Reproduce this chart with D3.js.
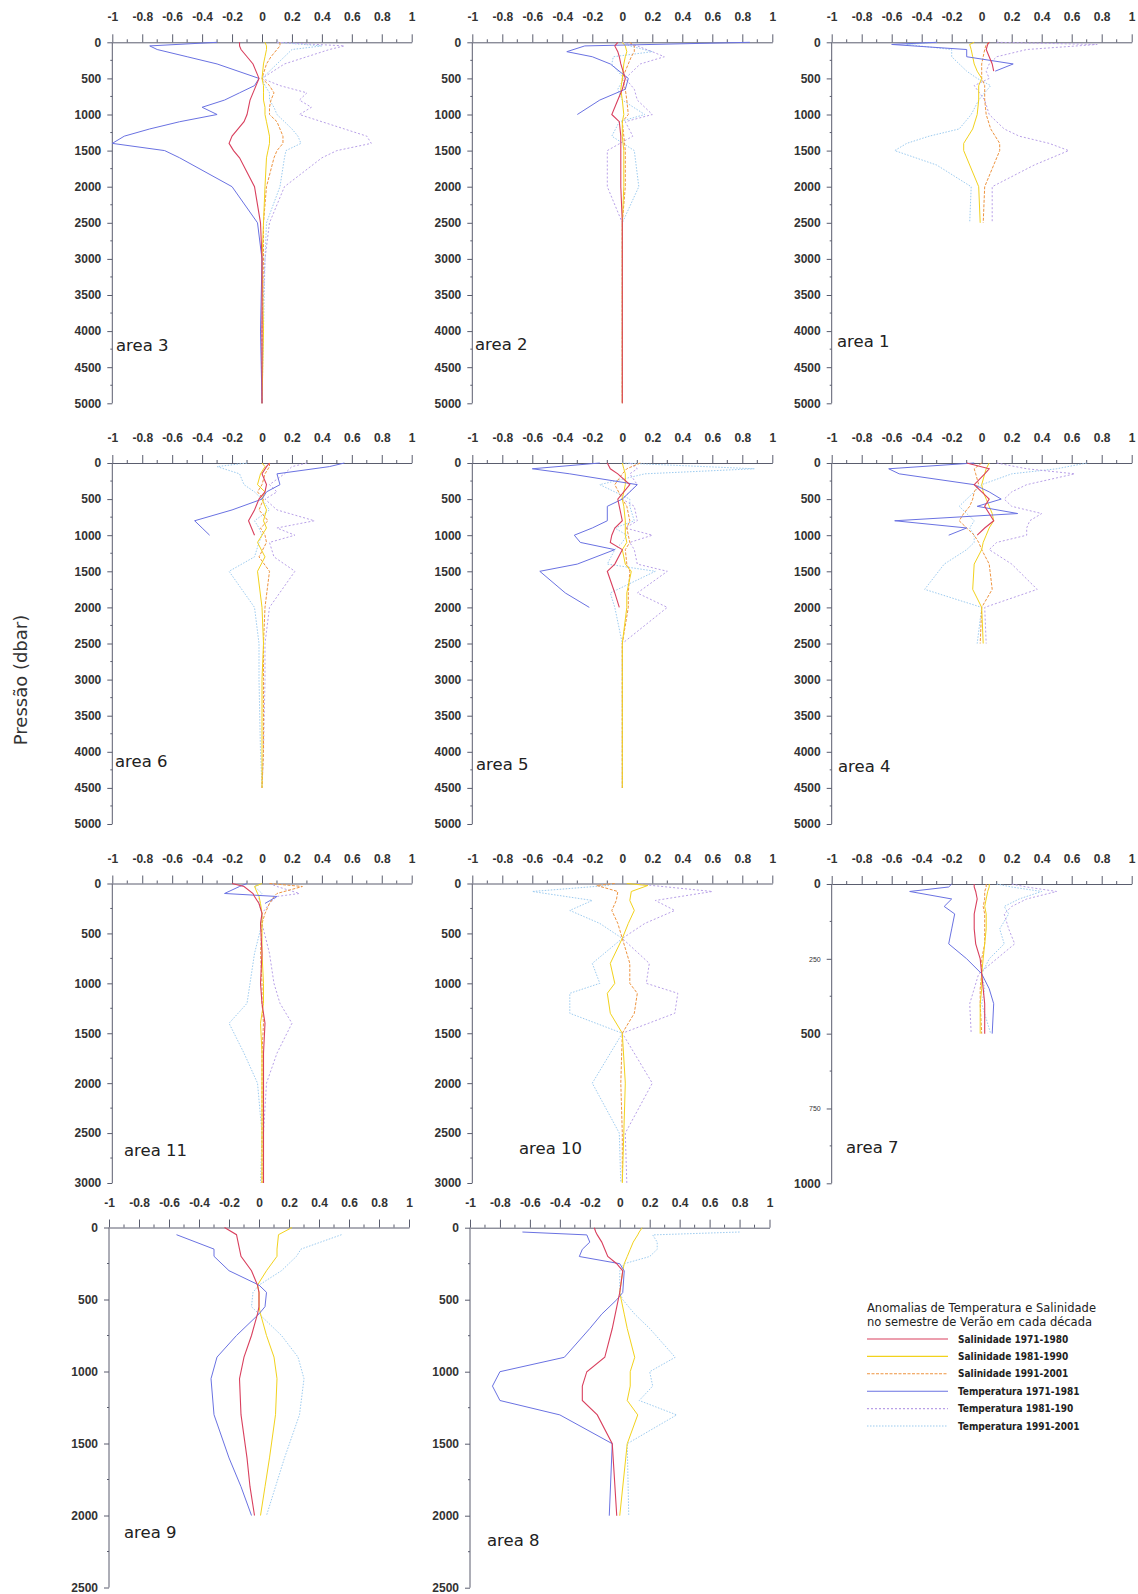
<!DOCTYPE html>
<html>
<head>
<meta charset="utf-8">
<script src="https://cdn.jsdelivr.net/npm/d3@7"></script>
<style>
  body { margin: 0; background: #fff; }
  .axis path, .axis line { stroke: #5a5d6e; stroke-width: 1; }
  .axis text { font-family: "Liberation Sans", Arial, sans-serif; font-size: 12px; font-weight: bold; fill: #333; }
</style>
</head>
<body>
<svg id="chart" width="1138" height="1594"></svg>
<script>
// series order: Sal 71-80, Sal 81-90, Sal 91-01, Temp 71-81, Temp 81-90, Temp 91-01
const seriesNames = ['Salinidade 1971-1980', 'Salinidade 1981-1990', 'Salinidade 1991-2001',
  'Temperatura 1971-1981', 'Temperatura 1981-190', 'Temperatura 1991-2001'];

const xTickValues = [-1, -0.8, -0.6, -0.4, -0.2, 0, 0.2, 0.4, 0.6, 0.8, 1];
const yTicks5000 = [0, 500, 1000, 1500, 2000, 2500, 3000, 3500, 4000, 4500, 5000];
const yTicks3000 = [0, 500, 1000, 1500, 2000, 2500, 3000];
const yTicks2500 = [0, 500, 1000, 1500, 2000, 2500];
const yTicks1000 = [0, 250, 500, 750, 1000];

// area 3
const depth3 = [0, 50, 100, 200, 300, 500, 600, 700, 800, 900, 1000, 1100, 1200, 1300, 1400, 1500, 1600, 2000, 2500, 3000, 4000, 5000];
const area3 = [
  [-0.15, -0.15, -0.14, -0.1, -0.06, -0.02, -0.04, -0.06, -0.08, -0.09, -0.1, -0.12, -0.16, -0.2, -0.22, -0.19, -0.15, -0.05, -0.01, 0, 0, 0],
  [0.02, 0.03, 0.03, 0.02, 0.01, 0, 0.01, 0.01, 0.01, 0.02, 0.02, 0.03, 0.04, 0.05, 0.05, 0.04, 0.03, 0.02, 0.01, 0, 0.01, 0],
  [0.12, 0.12, 0.1, 0.06, 0.03, 0, 0.05, 0.08, 0.06, 0.05, 0.05, 0.1, 0.12, 0.14, 0.14, 0.1, 0.08, 0.03, 0.01, 0.01, 0, 0],
  [-0.3, -0.75, -0.7, -0.5, -0.3, -0.02, -0.05, -0.15, -0.25, -0.4, -0.3, -0.55, -0.75, -0.92, -1.0, -0.65, -0.55, -0.2, -0.03, 0, -0.01, 0],
  [0.1, 0.55, 0.45, 0.3, 0.15, 0, 0.12, 0.3, 0.25, 0.33, 0.25, 0.4, 0.55, 0.7, 0.73, 0.5, 0.4, 0.15, 0.05, 0.02, 0, 0],
  [0.1, 0.4, 0.2, 0.15, 0.1, 0, 0.02, 0.05, 0.05, 0.08, 0.1, 0.15, 0.2, 0.24, 0.26, 0.16, 0.15, 0.12, 0.03, 0.02, 0.01, 0]
];

// area 2
const depth2 = [0, 50, 130, 200, 300, 500, 650, 800, 1000, 1100, 1300, 1500, 2000, 2500, 3000, 5000];
const area2 = [
  [-0.03, -0.05, -0.03, -0.02, -0.01, 0.02, 0.0, -0.03, -0.07, -0.02, -0.01, -0.01, -0.01, 0, 0, 0],
  [0.0, 0.02, 0.03, 0.02, 0.01, 0, -0.01, 0, 0.01, 0, 0, 0.01, 0.01, 0, 0, 0],
  [0.05, 0.08, 0.08, 0.06, 0.04, 0, 0.02, 0.03, 0.04, 0, 0.01, 0.02, 0.02, 0, 0, 0],
  [0.85, -0.25, -0.37, -0.2, -0.08, 0.04, 0.02, -0.15, -0.3, null, null, null, null, null, null, null],
  [0.0, 0.1, 0.2, 0.28, 0.12, 0.02, 0.08, 0.1, 0.2, 0.02, 0.07, -0.1, -0.1, 0, 0, 0],
  [0.0, 0.05, 0.2, -0.06, -0.07, 0.01, -0.03, 0.0, 0.15, -0.02, -0.07, 0.08, 0.11, 0, 0, 0]
];

// area 1
const depth1 = [0, 30, 100, 200, 300, 400, 500, 600, 800, 1000, 1200, 1300, 1400, 1500, 1700, 2000, 2500];
const area1 = [
  [0.05, 0.04, 0.03, 0.05, 0.07, 0.08, null, null, null, null, null, null, null, null, null, null, null],
  [-0.05, -0.08, -0.07, -0.06, -0.05, -0.03, 0, -0.02, -0.02, -0.03, -0.06, -0.09, -0.12, -0.12, -0.08, -0.02, -0.01],
  [0.05, 0.03, 0.02, 0.01, 0.0, 0.0, 0.0, 0.02, 0.02, 0.03, 0.06, 0.09, 0.12, 0.12, 0.08, 0.02, 0.01],
  [-0.3, -0.6, -0.1, -0.1, 0.21, 0.09, null, null, null, null, null, null, null, null, null, null, null],
  [0.1, 0.77, 0.3, 0.1, 0.05, 0.03, 0.05, -0.05, 0.02, 0.05, 0.15, 0.25, 0.45, 0.58, 0.35, 0.07, 0.07],
  [-0.3, -0.5, -0.2, -0.2, -0.15, -0.1, -0.03, 0.06, -0.02, -0.07, -0.15, -0.35, -0.5, -0.58, -0.3, -0.07, -0.08]
];

// area 6
const depth6 = [0, 50, 150, 300, 400, 500, 650, 800, 900, 1000, 1100, 1300, 1500, 2000, 2500, 3000, 4000, 4500];
const area6 = [
  [0.05, 0.03, 0.0, 0.03, 0.02, -0.02, -0.05, -0.09, -0.07, -0.05, null, null, null, null, null, null, null, null],
  [0.0, 0.02, -0.01, -0.03, 0.02, 0.0, 0.03, 0.01, 0.03, 0.0, -0.03, 0.02, -0.03, 0.0, 0.01, 0, 0, 0],
  [0.05, 0.05, 0.02, 0.0, -0.03, 0.01, -0.02, 0.04, -0.01, 0.02, 0.03, -0.02, 0.05, 0.02, 0.01, 0.01, 0.01, 0],
  [0.55, 0.45, 0.1, 0.12, 0.03, 0.0, -0.2, -0.45, -0.4, -0.35, null, null, null, null, null, null, null, null],
  [0.3, 0.2, 0.15, 0.05, 0.1, 0.02, 0.1, 0.35, 0.1, 0.22, 0.05, 0.08, 0.22, 0.05, 0.02, 0.02, 0.01, 0],
  [-0.1, -0.3, -0.15, -0.12, -0.05, 0.0, 0.05, -0.05, -0.02, 0.0, -0.02, -0.05, -0.22, -0.05, -0.02, -0.02, -0.01, 0]
];

// area 5
const depth5 = [0, 80, 150, 300, 500, 600, 800, 900, 1000, 1100, 1200, 1400, 1500, 1800, 2000, 2500, 3000, 4000, 4500];
const area5 = [
  [-0.1, -0.08, -0.03, 0.05, -0.03, -0.02, 0.0, -0.05, -0.07, -0.08, 0.0, -0.05, -0.1, -0.05, -0.02, null, null, null, null],
  [0.0, 0.01, 0.02, 0.02, 0.0, 0.01, 0.02, 0.02, 0.02, 0.03, 0.0, 0.02, 0.06, 0.03, 0.03, 0, 0, 0, 0],
  [0.12, 0.03, 0.0, -0.05, 0.0, 0.03, 0.05, 0.03, 0.04, 0.05, 0.02, 0.03, 0.05, 0.04, 0.04, 0, 0, 0, 0],
  [-0.15, -0.6, -0.35, 0.1, 0.0, -0.1, -0.1, -0.2, -0.32, -0.28, -0.05, -0.3, -0.55, -0.38, -0.22, null, null, null, null],
  [0.05, 0.1, 0.05, 0.1, 0.0, 0.08, 0.1, 0.02, 0.2, 0.05, 0.08, 0.1, 0.3, 0.1, 0.3, 0.0, 0, 0, 0],
  [0.0, 0.88, 0.15, -0.15, 0.05, 0.05, 0.08, -0.05, 0.03, 0.0, -0.05, -0.1, 0.22, -0.08, -0.05, 0.0, 0, 0, 0]
];

// area 4
const depth4 = [0, 80, 150, 300, 400, 500, 600, 700, 800, 900, 1000, 1100, 1200, 1400, 1750, 2000, 2500];
const area4 = [
  [-0.1, 0.05, 0.02, -0.05, 0.0, 0.05, 0.02, 0.05, 0.08, 0.02, -0.03, null, null, null, null, null, null],
  [0.05, 0.03, 0.02, 0.0, 0.01, 0.03, 0.05, 0.07, 0.08, 0.05, 0.03, 0.01, 0.0, -0.05, -0.06, 0.0, 0.01],
  [0.0, -0.05, -0.04, -0.02, -0.05, -0.06, -0.08, -0.12, -0.15, -0.1, -0.05, -0.02, 0.0, 0.05, 0.07, 0.0, -0.01],
  [-0.05, -0.62, -0.55, -0.05, 0.05, 0.13, -0.03, 0.24, -0.58, -0.1, -0.22, null, null, null, null, null, null],
  [0.1, 0.3, 0.62, 0.3, 0.2, 0.15, 0.2, 0.4, 0.32, 0.3, 0.3, 0.1, 0.05, 0.2, 0.37, 0.02, 0.03],
  [0.7, 0.5, 0.2, 0.0, -0.05, -0.1, -0.15, -0.1, -0.05, -0.08, -0.05, -0.05, -0.1, -0.25, -0.38, 0.0, -0.03]
];

// area 11
const depth11 = [0, 30, 100, 130, 200, 300, 400, 700, 1000, 1200, 1400, 1700, 2000, 2500, 3000];
const area11 = [
  [-0.2, -0.12, -0.06, -0.05, -0.02, 0.0, -0.01, 0.0, -0.01, 0.0, 0.02, 0.01, 0.01, 0.01, 0.01],
  [0.0, -0.05, -0.03, -0.02, -0.01, 0.0, 0.0, 0.0, 0.01, 0.01, -0.01, 0.0, 0.0, 0.0, 0.0],
  [0.05, 0.27, 0.1, 0.08, 0.05, 0.02, 0.0, -0.01, 0.0, 0.0, 0.01, 0.0, 0.0, 0.0, 0.0],
  [-0.1, -0.15, -0.25, 0.1, 0.02, null, null, null, null, null, null, null, null, null, null],
  [0.05, 0.1, 0.25, 0.1, 0.05, 0.0, 0.0, 0.05, 0.08, 0.12, 0.2, 0.1, 0.03, 0.01, 0.01],
  [0.0, -0.05, 0.0, -0.02, -0.02, 0.0, 0.0, -0.05, -0.08, -0.1, -0.22, -0.12, -0.03, 0.0, -0.01]
];

// area 10
const depth10 = [0, 20, 80, 170, 270, 400, 550, 800, 1000, 1100, 1300, 1500, 2000, 2500, 3000];
const area10 = [
  null,
  [0.03, 0.17, 0.06, 0.05, 0.08, 0.04, 0.0, -0.08, -0.05, -0.1, -0.08, 0.0, 0.02, 0.01, 0.0],
  [-0.05, -0.17, -0.03, -0.04, -0.07, -0.03, 0.0, 0.05, 0.05, 0.1, 0.08, 0.0, -0.01, 0.0, 0.0],
  null,
  [0.1, 0.2, 0.6, 0.22, 0.35, 0.15, 0.0, 0.18, 0.16, 0.37, 0.35, 0.0, 0.2, 0.02, 0.03],
  [-0.05, -0.1, -0.6, -0.2, -0.35, -0.15, 0.0, -0.2, -0.15, -0.35, -0.35, 0.0, -0.2, -0.02, -0.01]
];

// area 7
const depth7 = [0, 10, 25, 50, 75, 100, 150, 200, 250, 300, 350, 400, 500];
const area7 = [
  [-0.05, -0.05, -0.04, -0.03, -0.04, -0.05, -0.05, -0.04, -0.01, 0.0, 0.01, 0.02, 0.02],
  [0.05, 0.05, 0.04, 0.03, 0.02, 0.03, 0.03, 0.02, 0.01, 0.0, 0.0, -0.01, -0.01],
  [0.03, 0.03, 0.02, 0.02, 0.01, 0.02, 0.02, 0.02, 0.0, 0.0, -0.01, -0.01, 0.0],
  [-0.2, -0.22, -0.48, -0.2, -0.25, -0.18, -0.2, -0.22, -0.1, 0.0, 0.05, 0.08, 0.07],
  [0.2, 0.3, 0.5, 0.3, 0.2, 0.15, 0.18, 0.22, 0.1, -0.02, -0.05, -0.08, -0.07],
  [0.1, 0.2, 0.4, 0.25, 0.15, 0.18, 0.12, 0.15, 0.05, 0.0, 0.02, 0.0, 0.06]
];

// area 9
const depth9 = [0, 50, 150, 200, 300, 400, 450, 550, 600, 750, 900, 1050, 1300, 1600, 1800, 2000];
const area9 = [
  [-0.23, -0.15, -0.13, -0.12, -0.05, -0.01, 0.0, 0.0, -0.01, -0.05, -0.1, -0.13, -0.12, -0.08, -0.06, -0.03],
  [0.22, 0.13, 0.12, 0.12, 0.05, -0.01, 0.0, 0.0, 0.01, 0.05, 0.1, 0.12, 0.11, 0.07, 0.04, 0.01],
  null,
  [null, -0.55, -0.3, -0.3, -0.2, 0.0, 0.05, 0.04, 0.0, -0.15, -0.28, -0.32, -0.3, -0.2, -0.12, -0.05],
  null,
  [null, 0.55, 0.28, 0.25, 0.15, 0.0, -0.04, -0.05, 0.0, 0.15, 0.26, 0.3, 0.27, 0.17, 0.11, 0.05]
];

// area 8
const depth8 = [0, 30, 50, 100, 150, 200, 250, 300, 450, 500, 600, 700, 900, 1000, 1100, 1200, 1300, 1500, 2000];
const area8 = [
  [-0.17, -0.16, -0.15, -0.12, -0.1, -0.08, -0.02, 0.02, 0.0, -0.01, -0.03, -0.05, -0.1, -0.22, -0.25, -0.25, -0.15, -0.05, -0.02],
  [0.15, 0.13, 0.12, 0.09, 0.07, 0.05, 0.03, 0.02, 0.0, 0.01, 0.03, 0.05, 0.1, 0.07, 0.07, 0.05, 0.12, 0.05, 0.0],
  null,
  [null, -0.65, -0.22, -0.2, -0.25, -0.27, 0.0, 0.03, 0.02, -0.02, -0.12, -0.2, -0.37, -0.8, -0.85, -0.8, -0.4, -0.05, -0.07],
  null,
  [null, 0.8, 0.22, 0.25, 0.25, 0.2, 0.03, 0.0, 0.0, 0.02, 0.1, 0.2, 0.37, 0.2, 0.22, 0.13, 0.38, 0.05, 0.06]
];

// line styles per series
const seriesStyle = [
  { color: '#d9405e', dash: null, width: 1.1 },
  { color: '#f2d21c', dash: null, width: 1 },
  { color: '#ee9440', dash: '3,1.5', width: 1 },
  { color: '#6a72e2', dash: null, width: 1 },
  { color: '#b8a0e8', dash: '2,2', width: 1 },
  { color: '#9ccbf0', dash: '1.5,1.5', width: 1 }
];

const svg = d3.select('#chart');

const panels = [
  { name: 'area 3', depth: depth3, values: area3, left: 112.3, right: 411.7, top: 42.3, bottom: 403.3, yTicks: yTicks5000, label: [116, 351] },
  { name: 'area 2', depth: depth2, values: area2, left: 472.3, right: 772.3, top: 42.3, bottom: 403.3, yTicks: yTicks5000, label: [475, 350] },
  { name: 'area 1', depth: depth1, values: area1, left: 831.7, right: 1131.7, top: 42.3, bottom: 403.3, yTicks: yTicks5000, label: [837, 347] },
  { name: 'area 6', depth: depth6, values: area6, left: 112.3, right: 411.7, top: 463, bottom: 824, yTicks: yTicks5000, label: [115, 767] },
  { name: 'area 5', depth: depth5, values: area5, left: 472.3, right: 772.3, top: 463, bottom: 824, yTicks: yTicks5000, label: [476, 770] },
  { name: 'area 4', depth: depth4, values: area4, left: 831.7, right: 1131.7, top: 463, bottom: 824, yTicks: yTicks5000, label: [838, 772] },
  { name: 'area 11', depth: depth11, values: area11, left: 112.3, right: 411.7, top: 883.5, bottom: 1183, yTicks: yTicks3000, label: [124, 1156] },
  { name: 'area 10', depth: depth10, values: area10, left: 472.3, right: 772.3, top: 883.5, bottom: 1183, yTicks: yTicks3000, label: [519, 1154] },
  { name: 'area 7', depth: depth7, values: area7, left: 831.7, right: 1131.7, top: 884, bottom: 1183.3, yTicks: yTicks1000, label: [846, 1153], smallTicks: [250, 750] },
  { name: 'area 9', depth: depth9, values: area9, left: 109, right: 409, top: 1227.5, bottom: 1587.5, yTicks: yTicks2500, label: [124, 1538] },
  { name: 'area 8', depth: depth8, values: area8, left: 470, right: 769.5, top: 1227.7, bottom: 1587.7, yTicks: yTicks2500, label: [487, 1546] }
];

function drawPanel(p) {
  const maxDepth = p.yTicks[p.yTicks.length - 1];
  const x = d3.scaleLinear().domain([-1, 1]).range([p.left, p.right]);
  const y = d3.scaleLinear().domain([0, maxDepth]).range([p.top, p.bottom]);
  const g = svg.append('g');

  // y axis (pressure downward)
  const yAxis = g.append('g').attr('class', 'axis')
    .attr('transform', `translate(${p.left},0)`)
    .call(d3.axisLeft(y).tickValues(p.yTicks).tickSize(5).tickSizeOuter(0).tickPadding(6).tickFormat(d3.format('d')));
  yAxis.select('.domain').remove();
  yAxis.append('line').attr('x1', 0).attr('x2', 0).attr('y1', p.top).attr('y2', p.bottom)
    .attr('stroke', '#5a5d6e');
  if (p.smallTicks) {
    yAxis.selectAll('.tick text').filter((d) => p.smallTicks.includes(d))
      .style('font-size', '7px').style('font-weight', 'normal');
  }
  // minor y ticks
  const step = p.yTicks[1] - p.yTicks[0];
  g.selectAll('line.ymin')
    .data(p.yTicks.slice(1).map((d) => d - step / 2))
    .enter().append('line')
    .attr('x1', p.left - 2).attr('x2', p.left)
    .attr('y1', (d) => y(d)).attr('y2', (d) => y(d))
    .attr('stroke', '#5a5d6e');

  // x axis on top
  g.append('g').attr('class', 'axis')
    .attr('transform', `translate(0,${p.top})`)
    .call(d3.axisTop(x).tickValues(xTickValues).tickSize(8).tickSizeOuter(0).tickPadding(13)
      .tickFormat((d) => String(+d.toFixed(1))));
  g.selectAll('line.xmin')
    .data(xTickValues.slice(1).map((d) => d - 0.1))
    .enter().append('line')
    .attr('x1', (d) => x(d)).attr('x2', (d) => x(d))
    .attr('y1', p.top - 3).attr('y2', p.top)
    .attr('stroke', '#5a5d6e');

  // profiles
  const line = d3.line()
    .defined((d) => d[0] !== null)
    .x((d) => x(d[0]))
    .y((d) => y(d[1]));
  [5, 4, 2, 1, 3, 0].forEach((i) => {
    const vals = p.values[i];
    if (!vals) return;
    const pts = p.depth.map((d, j) => [vals[j], d]);
    const st = seriesStyle[i];
    g.append('path')
      .datum(pts)
      .attr('fill', 'none')
      .attr('stroke', st.color)
      .attr('stroke-width', st.width)
      .attr('stroke-dasharray', st.dash)
      .attr('d', line);
  });

  g.append('text')
    .attr('x', p.label[0]).attr('y', p.label[1])
    .style('font-family', '"DejaVu Sans", Verdana, sans-serif')
    .style('font-size', '16.5px')
    .attr('fill', '#222')
    .text(p.name);
}

panels.forEach(drawPanel);

// y title
svg.append('text')
  .attr('transform', 'translate(27,680) rotate(-90)')
  .attr('text-anchor', 'middle')
  .style('font-family', '"DejaVu Sans", Verdana, sans-serif')
  .style('font-size', '18px')
  .attr('fill', '#333')
  .text('Pressão (dbar)');

// legend
const legend = svg.append('g').attr('transform', 'translate(867,0)');
legend.append('text').attr('x', 0).attr('y', 1312)
  .style('font-family', '"DejaVu Sans", Verdana, sans-serif').style('font-size', '11.5px').attr('fill', '#222')
  .text('Anomalias de Temperatura e Salinidade');
legend.append('text').attr('x', 0).attr('y', 1326)
  .style('font-family', '"DejaVu Sans", Verdana, sans-serif').style('font-size', '11.5px').attr('fill', '#222')
  .text('no semestre de Verão em cada década');
const legendRow = d3.scaleLinear().domain([0, 5]).range([1339, 1426]);
const items = legend.selectAll('g.item').data(seriesNames).enter().append('g')
  .attr('transform', (d, i) => `translate(0,${legendRow(i)})`);
items.append('line')
  .attr('x1', 0).attr('x2', 81).attr('y1', 0).attr('y2', 0)
  .attr('stroke', (d, i) => seriesStyle[i].color)
  .attr('stroke-width', 1.1)
  .attr('stroke-dasharray', (d, i) => seriesStyle[i].dash);
items.append('text')
  .attr('x', 91).attr('y', 3.5)
  .style('font-family', '"DejaVu Sans Condensed", "DejaVu Sans", sans-serif')
  .style('font-size', '10px').style('font-weight', 'bold')
  .attr('fill', '#222')
  .text((d) => d);
</script>
</body>
</html>
